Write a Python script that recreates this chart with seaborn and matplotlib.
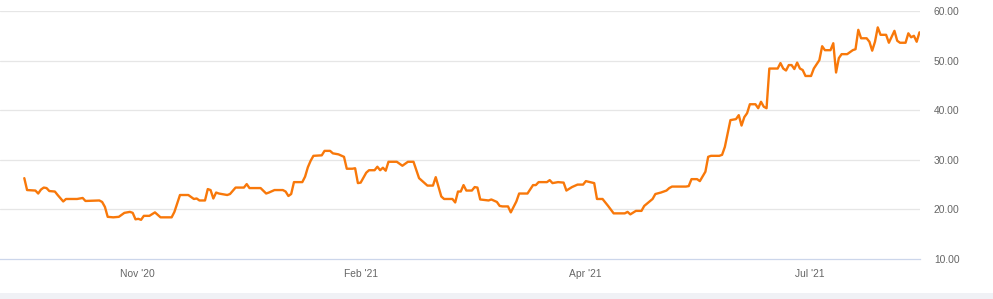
import matplotlib
matplotlib.use("Agg")
import matplotlib.pyplot as plt
import seaborn as sns
import pandas as pd
from matplotlib.patches import Rectangle

# day offsets (calendar days from series start) and prices
days = [0, 1, 4, 5, 6, 7, 8, 9, 11, 12, 14, 15, 19, 21, 22, 27, 28, 29, 30, 32,
        34, 36, 38, 39, 40, 41, 42, 43, 45, 47, 49, 53, 54, 55, 56, 59, 61, 62, 63, 65,
        66, 67, 68, 69, 70, 73, 74, 76, 79, 80, 81, 85, 87, 88, 90, 93, 94, 95, 96, 97,
        100, 101, 102, 103, 104, 107, 108, 110, 111, 113, 115, 116, 118, 119, 120, 121, 123, 124, 126, 127,
        128, 129, 130, 131, 134, 136, 138, 140, 142, 144, 145, 147, 148, 150, 151, 154, 155, 156, 157, 158,
        159, 161, 162, 163, 164, 167, 168, 170, 171, 172, 174, 175, 177, 178, 181, 183, 184, 185, 188, 189,
        190, 192, 194, 195, 197, 199, 201, 202, 205, 206, 208, 210, 212, 216, 217, 218, 220, 222, 223, 226,
        227, 229, 231, 232, 233, 238, 239, 240, 242, 243, 245, 246, 247, 250, 251, 252, 254, 256, 257, 258,
        259, 260, 261, 263, 264, 265, 266, 267, 268, 271, 272, 273, 274, 275, 276, 277, 278, 279, 280, 281,
        283, 284, 286, 287, 288, 290, 291, 292, 293, 294, 296, 298, 299, 300, 301, 303, 304, 305, 306, 307,
        308, 310, 311, 313, 314, 315, 317, 318, 319, 320, 321, 322]
prices = [26.3, 23.9, 23.8, 23.2, 24.0, 24.4, 24.3, 23.7, 23.6, 22.9, 21.6, 22.1, 22.1, 22.3, 21.7, 21.8, 21.5, 20.5, 18.5, 18.4,
          18.5, 19.3, 19.5, 19.3, 18.0, 18.1, 17.9, 18.7, 18.7, 19.4, 18.4, 18.4, 19.5, 21.2, 22.9, 22.9, 22.1, 22.2, 21.8, 21.8,
          24.1, 23.9, 22.2, 23.4, 23.2, 22.9, 23.1, 24.4, 24.4, 25.1, 24.3, 24.3, 23.2, 23.4, 23.9, 23.9, 23.6, 22.7, 23.1, 25.5,
          25.5, 26.6, 28.5, 29.8, 30.8, 30.9, 31.8, 31.8, 31.3, 31.1, 30.6, 28.2, 28.2, 28.3, 25.3, 25.4, 27.4, 27.9, 27.9, 28.6,
          27.9, 28.4, 27.8, 29.6, 29.6, 28.8, 29.6, 29.6, 26.3, 25.3, 24.8, 24.8, 26.5, 22.6, 22.1, 22.1, 21.4, 23.6, 23.6, 24.9,
          23.8, 23.8, 24.5, 24.4, 22.0, 21.8, 22.0, 21.5, 20.7, 20.6, 20.6, 19.4, 21.6, 23.2, 23.2, 24.9, 24.9, 25.5, 25.5, 25.9,
          25.3, 25.5, 25.4, 23.8, 24.5, 25.0, 25.0, 25.7, 25.3, 22.1, 22.1, 20.7, 19.2, 19.2, 19.5, 19.0, 19.7, 19.7, 20.7, 22.1,
          23.1, 23.4, 23.8, 24.3, 24.6, 24.6, 24.7, 26.1, 26.1, 25.7, 27.6, 30.6, 30.8, 30.8, 31.0, 32.6, 38.0, 38.2, 39.0, 36.9,
          38.6, 39.4, 41.2, 41.2, 40.4, 41.7, 40.7, 40.4, 48.4, 48.4, 49.5, 48.4, 48.0, 49.1, 49.1, 48.3, 49.6, 48.4, 48.1, 46.9,
          46.9, 48.4, 50.1, 52.9, 52.1, 52.1, 53.5, 47.6, 50.5, 51.3, 51.3, 52.1, 52.3, 56.2, 54.5, 54.5, 53.8, 52.0, 53.8, 56.7,
          55.2, 55.2, 53.6, 56.0, 54.0, 53.6, 53.6, 55.5, 54.7, 55.0, 53.8, 55.7]

tick_days = [40.5, 121.1, 201.7, 282.6]
tick_labels = ["Nov '20", "Feb '21", "Apr '21", "Jul '21"]
y_ticks = [10, 20, 30, 40, 50, 60]

df = pd.DataFrame({"day": days, "price": prices})

sns.set_style("white")
plt.rcParams["font.family"] = ["Liberation Sans", "DejaVu Sans"]

fig = plt.figure(figsize=(9.93, 2.99), dpi=100)
ax = fig.add_axes([0.0, 0.1338, 0.9265, 0.8294])

sns.lineplot(data=df, x="day", y="price", ax=ax, color="#F8780A", linewidth=1.7)

ax.set_xlim(-8.74, 322.2)
ax.set_ylim(10, 60)
ax.set_yticks(y_ticks)
ax.set_yticklabels([f"{v:.2f}" for v in y_ticks])
ax.yaxis.tick_right()
ax.set_xticks(tick_days)
ax.set_xticklabels(tick_labels)
ax.set_xlabel("")
ax.set_ylabel("")

for v in y_ticks[1:]:
    ax.axhline(v, color="#e6e6e6", linewidth=0.9, zorder=0)

for s in ["top", "left", "right"]:
    ax.spines[s].set_visible(False)
ax.spines["bottom"].set_color("#ccd6eb")
ax.spines["bottom"].set_linewidth(0.9)

ax.tick_params(axis="x", colors="#ccd6eb", length=7, width=0.9, direction="out", pad=0.5,
               labelcolor="#666666", labelsize=7.4)
ax.tick_params(axis="y", length=0, pad=10, labelcolor="#666666", labelsize=7.4)

fig.patches.append(Rectangle((0, 0), 1, 6 / 299, transform=fig.transFigure,
                             facecolor="#f0f1f5", edgecolor="none", zorder=-1))

fig.savefig("out.png", dpi=100)
